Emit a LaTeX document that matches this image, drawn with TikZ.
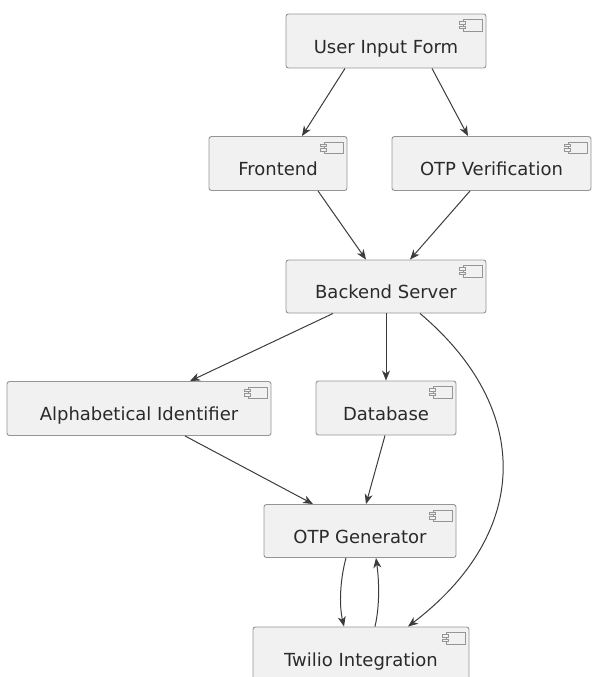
\documentclass[tikz,border=0pt]{standalone}
\usepackage{fontspec}
\setmainfont{DejaVu Sans}
\usepackage{tikz}
\usetikzlibrary{calc,arrows.meta}
\usetikzlibrary{positioning}
\definecolor{uml-text}{HTML}{2A2A2A}
\definecolor{uml-line}{HTML}{3C3C3C}
\definecolor{uml-fill}{HTML}{F1F1F1}
\definecolor{uml-border}{HTML}{959595}

\begin{document}
\begin{tikzpicture}[
    x=1pt, y=-1pt,
    font=\fontsize{18}{20}\selectfont,
    >={Stealth[length=10pt,width=8pt,inset=3pt]}
  ]
  \tikzset{
    compbox/.style={draw=uml-border, fill=uml-fill, rounded corners=2.5pt, line width=0.9pt, text=uml-text, text height=28pt, text depth=4pt, minimum height=54pt},
    arrow/.style={->, uml-line, line width=1pt},
    icon/.style={draw=uml-border, fill=uml-fill, line width=0.8pt}
  }
  \useasboundingbox (0,0) rectangle (593,677);

  \node (form) [compbox, minimum width=200pt] at (386,41) {User Input Form};
  \node (front) [compbox, minimum width=138pt] at (278,163.5) {Frontend};
  \node (verif) [compbox, minimum width=199pt] at (491.5,163.5) {OTP Verification};
  \node (backend) [compbox, minimum width=200pt, minimum height=53pt] at (386,286.5) {Backend Server};
  \node (alpha) [compbox, minimum width=264pt] at (139,408.5) {Alphabetical Identifier};
  \node (db) [compbox, minimum width=140pt] at (386,408) {Database};
  \node (gen) [compbox, minimum width=192pt, minimum height=53pt] at (360,531) {OTP Generator};
  \node (twilio) [compbox, minimum width=216pt] at (361,654) {Twilio Integration};

  % component icons
  \foreach \n in {form,front,verif,backend,alpha,db,gen,twilio} {
    \draw[icon] ($(\n.north east)+(-23.5,6)$) rectangle ($(\n.north east)+(-4.5,17.5)$);
    \draw[icon] ($(\n.north east)+(-27.5,8)$) rectangle ($(\n.north east)+(-21.5,10.5)$);
    \draw[icon] ($(\n.north east)+(-27.5,12.5)$) rectangle ($(\n.north east)+(-21.5,15)$);
  }

  \draw[arrow] ([xshift=-41pt]form.south) -- ([xshift=24pt]front.north);
  \draw[arrow] ([xshift=46pt]form.south) -- ([xshift=-23.5pt]verif.north);
  \draw[arrow] ([xshift=40pt]front.south) -- ([xshift=-20pt]backend.north);
  \draw[arrow] ([xshift=-21.5pt]verif.south) -- ([xshift=24pt]backend.north);
  \draw[arrow] ([xshift=-53pt]backend.south) -- ([xshift=51pt]alpha.north);
  \draw[arrow] (backend.south) -- (db.north);
  \draw[arrow] ([xshift=34pt]backend.south) .. controls (532,408) and (532,532) .. ([xshift=47pt]twilio.north);
  \draw[arrow] ([xshift=46pt]alpha.south) -- ([xshift=-47pt]gen.north);
  \draw[arrow] ([xshift=-1pt]db.south) -- ([xshift=6pt]gen.north);
  \draw[arrow] ([xshift=-14pt]gen.south) .. controls (340,580) and (339,605) .. ([xshift=-17pt]twilio.north);
  \draw[arrow] ([xshift=14pt]twilio.north) .. controls (380,605) and (379,580) .. ([xshift=16pt]gen.south);
\end{tikzpicture}
\end{document}
